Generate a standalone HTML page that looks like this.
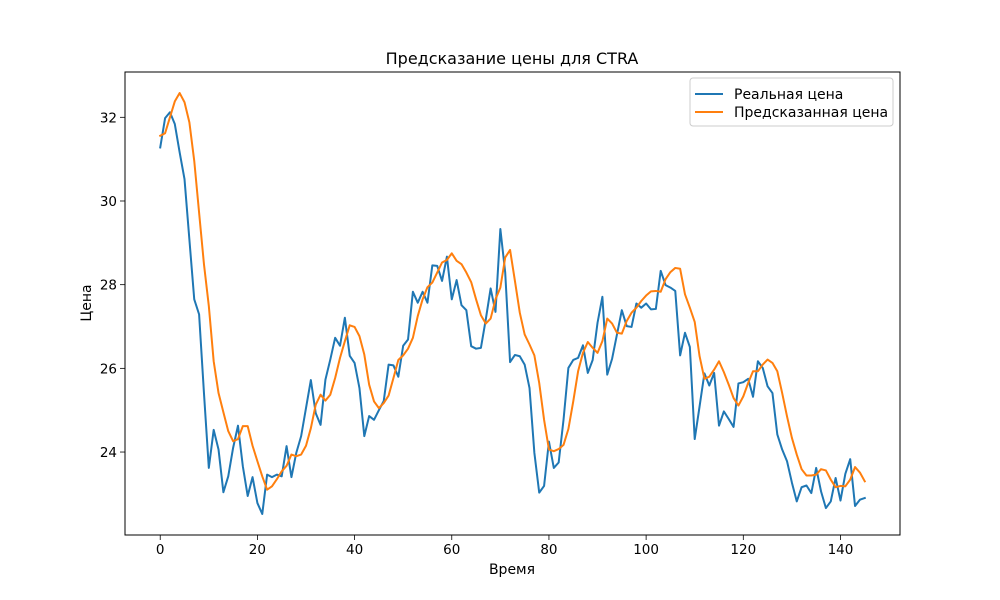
<!DOCTYPE html>
<html><head><meta charset="utf-8"><style>
html,body{margin:0;padding:0;background:#fff;}
svg{display:block;font-family:"DejaVu Sans","Liberation Sans",sans-serif;}
</style></head><body>
<svg id="chart" width="1000" height="600" viewBox="0 0 1000 600" xmlns="http://www.w3.org/2000/svg">
<rect width="1000" height="600" fill="#fff"/>
<text x="512" y="64" text-anchor="middle" font-size="16" fill="#000">Предсказание цены для CTRA</text>
<g id="xticks"></g><g id="yticks"></g>
<g id="series"></g>
<rect x="125" y="72" width="775" height="463" fill="none" stroke="#000" stroke-width="1"/>
<text x="512" y="574" text-anchor="middle" font-size="14" fill="#000">Время</text>
<text transform="translate(91,303) rotate(-90)" text-anchor="middle" font-size="14" fill="#000">Цена</text>
<g>
<rect x="690" y="78" width="203" height="48" fill="#fff" fill-opacity="0.8" stroke="#ccc" rx="3"/>
<line x1="695" y1="94" x2="723" y2="94" stroke="#1f77b4" stroke-width="2"/>
<text x="734" y="99" font-size="14" fill="#000">Реальная цена</text>
<line x1="695" y1="112" x2="723" y2="112" stroke="#ff7f0e" stroke-width="2"/>
<text x="734" y="117" font-size="14" fill="#000">Предсказанная цена</text>
</g>
</svg>
<script>
const realPrice=[31.28,31.98,32.12,31.84,31.16,30.52,29.08,27.65,27.29,25.41,23.62,24.53,24.06,23.04,23.42,24.1,24.63,23.66,22.95,23.4,22.78,22.52,23.46,23.4,23.46,23.42,24.14,23.4,23.98,24.38,25.05,25.72,24.93,24.65,25.73,26.21,26.73,26.54,27.21,26.3,26.13,25.53,24.38,24.86,24.77,25.0,25.22,26.09,26.07,25.8,26.54,26.69,27.83,27.57,27.83,27.57,28.46,28.45,28.09,28.67,27.65,28.11,27.51,27.39,26.53,26.47,26.49,27.17,27.91,27.35,29.33,28.29,26.15,26.32,26.29,26.09,25.53,23.98,23.03,23.19,24.25,23.62,23.75,24.77,26.01,26.2,26.25,26.55,25.89,26.2,27.09,27.71,25.85,26.23,26.81,27.39,27.01,26.99,27.55,27.45,27.55,27.41,27.42,28.33,27.99,27.93,27.85,26.31,26.85,26.51,24.31,25.09,25.88,25.59,25.89,24.63,24.97,24.79,24.6,25.64,25.67,25.75,25.32,26.17,26.01,25.57,25.41,24.42,24.06,23.78,23.27,22.82,23.16,23.2,23.02,23.62,23.06,22.66,22.82,23.38,22.84,23.48,23.83,22.71,22.86,22.9];
const predictedPrice=[31.56,31.62,32.0,32.38,32.58,32.36,31.88,30.96,29.72,28.49,27.49,26.17,25.41,24.95,24.5,24.26,24.31,24.62,24.62,24.15,23.78,23.42,23.1,23.18,23.35,23.54,23.67,23.94,23.9,23.94,24.15,24.57,25.13,25.37,25.23,25.37,25.77,26.25,26.65,27.03,26.99,26.77,26.33,25.61,25.21,25.05,25.17,25.35,25.77,26.2,26.31,26.47,26.73,27.25,27.65,27.94,28.05,28.29,28.53,28.59,28.75,28.57,28.49,28.29,28.06,27.65,27.27,27.07,27.19,27.65,27.93,28.65,28.83,28.09,27.33,26.81,26.57,26.31,25.65,24.77,24.06,24.02,24.07,24.17,24.55,25.21,25.93,26.37,26.63,26.49,26.37,26.65,27.19,27.07,26.85,26.83,27.13,27.33,27.45,27.61,27.74,27.84,27.85,27.83,28.13,28.3,28.4,28.38,27.77,27.45,27.11,26.29,25.75,25.8,25.97,26.17,25.91,25.61,25.29,25.11,25.33,25.65,25.93,25.93,26.09,26.21,26.13,25.93,25.41,24.85,24.34,23.94,23.59,23.44,23.44,23.46,23.59,23.56,23.34,23.16,23.19,23.18,23.34,23.64,23.51,23.3];
const xTicks=[0,20,40,60,80,100,120,140];
const yTicks=[24,26,28,30,32];

const NS="http://www.w3.org/2000/svg";
const L=125,R=900,T=72,B=535;
const n=Math.max(realPrice.length,predictedPrice.length);
const xMin=-(n-1)*0.05, xMax=(n-1)*1.05;
const all=realPrice.concat(predictedPrice);
const dmin=Math.min(...all), dmax=Math.max(...all), pad=(dmax-dmin)*0.05;
const yMin=dmin-pad, yMax=dmax+pad;
const sx=v=>L+(v-xMin)/(xMax-xMin)*(R-L);
const sy=v=>B-(v-yMin)/(yMax-yMin)*(B-T);
function mk(tag,attrs,parent){const e=document.createElementNS(NS,tag);for(const k in attrs)e.setAttribute(k,attrs[k]);parent.appendChild(e);return e;}
const gx=document.getElementById('xticks'),gy=document.getElementById('yticks'),gs=document.getElementById('series');
xTicks.forEach(t=>{
  const x=sx(t);
  const ln=mk('line',{x1:x,y1:B,x2:x,y2:B+5,stroke:'#000','stroke-width':0.8},gx);
  
  
  const tx=mk('text',{x:x,y:B+19,'text-anchor':'middle','font-size':13.5,fill:'#000'},gx);
  tx.textContent=t;
  
  
});
yTicks.forEach(t=>{
  const y=sy(t);
  const ln=mk('line',{x1:L-5,y1:y,x2:L,y2:y,stroke:'#000','stroke-width':0.8},gy);
  
  
  const tx=mk('text',{x:L-8,y:y+5,'text-anchor':'end','font-size':13.5,fill:'#000'},gy);
  tx.textContent=t;
  
  
});
function line(arr,color,name){
  const d=arr.map((v,i)=>(i?'L':'M')+sx(i).toFixed(2)+','+sy(v).toFixed(2)).join('');
  const p=mk('path',{d:d,fill:'none',stroke:color,'stroke-width':2,'stroke-linejoin':'round','stroke-linecap':'square'},gs);
  
  
}
line(realPrice,'#1f77b4','real-price-line');
line(predictedPrice,'#ff7f0e','predicted-price-line');
</script>
</body></html>
